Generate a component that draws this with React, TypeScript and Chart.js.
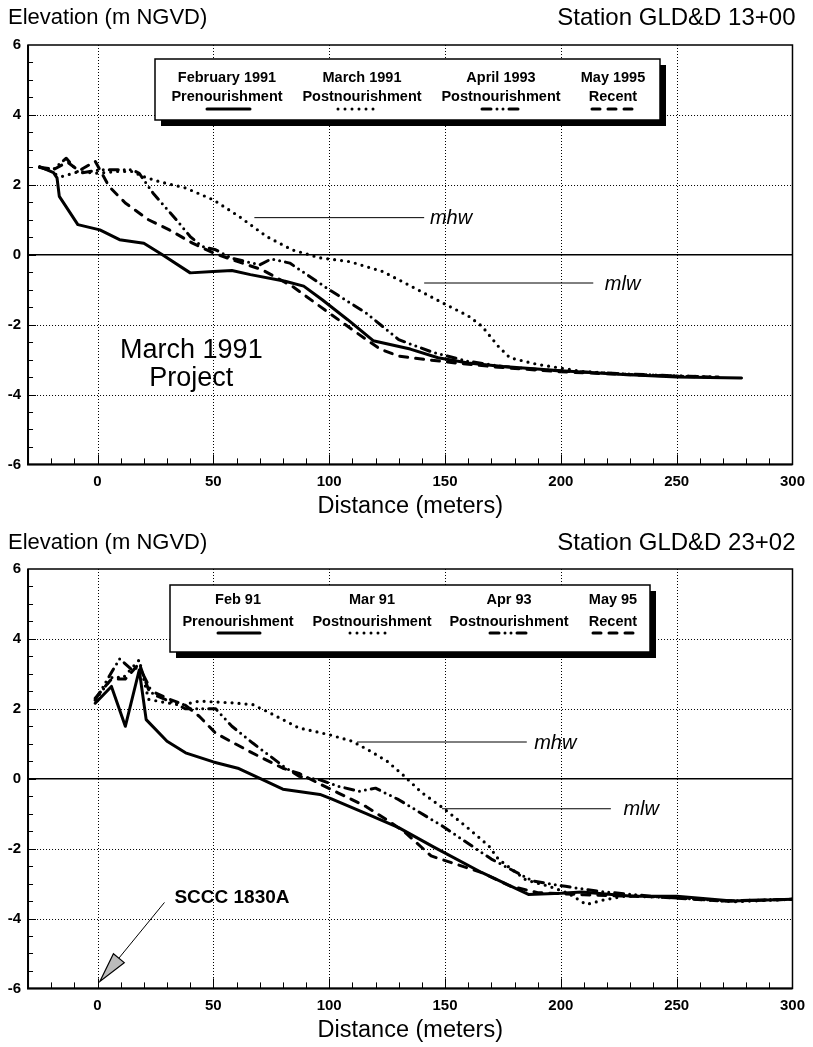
import React, { useEffect, useRef } from "react";
import { Chart, registerables } from "chart.js";
Chart.register(...registerables);

const FONT = "'Liberation Sans', Arial, Helvetica, sans-serif";

// Axes
const X_MIN = -30;
const X_MAX = 300;
const X_MAJOR = 50;
const X_MINOR = 10;
const Y_MIN = -6;
const Y_MAX = 6;
const Y_MAJOR = 2;
const Y_MINOR = 0.5;

// Top chart: Station GLD&D 13+00
const topFeb91X = [-25, -19, -17.5, -16.5, -8.5, 1, 9.5, 20, 28, 40, 50, 58, 66, 81, 89, 97, 108, 119, 135, 147, 160, 175, 200, 225, 250, 278];
const topFeb91Y = [2.52, 2.35, 2.2, 1.67, 0.86, 0.71, 0.43, 0.33, 0.0, -0.52, -0.48, -0.45, -0.57, -0.76, -0.9, -1.29, -1.86, -2.46, -2.7, -2.95, -3.1, -3.2, -3.32, -3.42, -3.5, -3.53];
const topMar91X = [-18, -15, -8, 0, 8, 15, 19.5, 26.7, 38, 50, 61, 73, 84, 96, 109, 123, 131, 149, 160, 166, 173, 178, 190, 209, 231, 258];
const topMar91Y = [2.3, 2.24, 2.38, 2.33, 2.38, 2.38, 2.24, 2.09, 1.91, 1.57, 1.1, 0.52, 0.14, -0.09, -0.2, -0.48, -0.75, -1.38, -1.75, -2.05, -2.62, -2.95, -3.14, -3.34, -3.43, -3.48];
const topApr93X = [-25, -19, -13.5, -8, 1, 15, 18, 24, 34, 40, 45, 51, 58, 70, 75, 83, 100, 116, 130, 145, 160, 175, 200, 225, 250, 268];
const topApr93Y = [2.5, 2.45, 2.76, 2.33, 2.43, 2.43, 2.33, 1.76, 1.0, 0.52, 0.24, 0.14, -0.1, -0.29, -0.12, -0.24, -1.0, -1.67, -2.43, -2.8, -3.05, -3.2, -3.33, -3.4, -3.47, -3.5];
const topMay95X = [-25, -20, -13, -8, -1, 5, 12, 22, 31, 41, 50, 58, 71, 84, 100, 112, 122, 130, 139, 155, 173, 200, 225, 250, 268];
const topMay95Y = [2.5, 2.4, 2.65, 2.4, 2.67, 1.95, 1.48, 1.0, 0.71, 0.33, 0.05, -0.14, -0.43, -0.9, -1.67, -2.24, -2.7, -2.9, -2.98, -3.1, -3.22, -3.35, -3.42, -3.48, -3.5];

// Bottom chart: Station GLD&D 23+02
const botFeb91X = [-1, 6, 12, 18, 21, 30, 38, 50, 61, 71, 80, 96, 101, 116, 130, 145, 166, 186, 200, 209, 231, 250, 274, 300];
const botFeb91Y = [2.16, 2.64, 1.5, 3.11, 1.69, 1.07, 0.74, 0.48, 0.29, -0.02, -0.3, -0.45, -0.58, -1.0, -1.4, -1.95, -2.69, -3.31, -3.28, -3.24, -3.36, -3.36, -3.5, -3.45];
const botMar91X = [-1, 6.5, 11, 18, 22, 30, 37, 44, 58, 67, 73, 87, 100, 110, 118, 125, 132, 140, 149, 159, 169, 173, 185, 195, 203, 211, 219, 228, 250, 275, 300];
const botMar91Y = [2.25, 2.92, 2.88, 3.4, 2.27, 2.17, 2.12, 2.22, 2.17, 2.12, 1.93, 1.45, 1.26, 1.07, 0.78, 0.5, 0.1, -0.4, -0.83, -1.36, -1.93, -2.3, -2.9, -3.08, -3.27, -3.6, -3.46, -3.36, -3.4, -3.52, -3.45];
const botApr93X = [-1, 9.5, 15, 18, 24, 31, 38, 51, 58, 67, 80, 87, 96, 104, 113, 120, 130, 149, 170, 188, 202, 216, 240, 270, 300];
const botApr93Y = [2.25, 3.43, 3.11, 3.2, 2.41, 2.22, 2.0, 2.0, 1.5, 1.02, 0.37, 0.07, -0.03, -0.22, -0.36, -0.27, -0.6, -1.36, -2.3, -2.93, -3.08, -3.22, -3.37, -3.5, -3.45];
const botMay95X = [-1, 6, 12, 18, 22, 30, 38, 44, 51, 67, 80, 87, 96, 104, 116, 127, 133, 144, 166, 178, 190, 210, 240, 270, 300];
const botMay95Y = [2.3, 2.85, 2.85, 3.3, 2.55, 2.3, 2.1, 1.78, 1.3, 0.73, 0.3, 0.15, -0.15, -0.41, -0.8, -1.27, -1.55, -2.21, -2.69, -3.07, -3.26, -3.32, -3.38, -3.5, -3.45];

// Legend texts
const topLegendDates = ["February 1991", "March 1991", "April 1993", "May 1995"];
const botLegendDates = ["Feb 91", "Mar 91", "Apr 93", "May 95"];
const legendKinds = ["Prenourishment", "Postnourishment", "Postnourishment", "Recent"];

// Line styles per survey
const DASHES = [[], [0, 7], [9, 6, 0, 6, 0, 6], [8, 8]];

const pts = (xs: number[], ys: number[]) => xs.map((x, i) => ({ x, y: ys[i] }));

function makeDatasets(series: [number[], number[]][], labels: string[]) {
  return series.map(([xs, ys], i) => ({
    label: labels[i],
    data: pts(xs, ys),
    borderColor: "#000",
    borderWidth: i === 1 ? 3.2 : 3,
    borderDash: DASHES[i],
    borderCapStyle: "round" as const,
    borderJoinStyle: "round" as const,
    pointRadius: 0,
    fill: false,
    tension: 0,
  }));
}

const decorPlugin = {
  id: "decor",
  beforeDatasetsDraw(chart: any, _a: any, o: any) {
    const { ctx, chartArea: a, scales } = chart;
    const x = scales.x, y = scales.y;
    ctx.save();
    ctx.strokeStyle = "#000";
    ctx.lineWidth = 1;
    ctx.setLineDash([1, 2]);
    for (let v = X_MIN; v <= X_MAX; v += X_MINOR) {
      if (v % X_MAJOR !== 0 || v <= X_MIN || v >= X_MAX) continue;
      const px = Math.round(x.getPixelForValue(v)) + 0.5;
      ctx.beginPath(); ctx.moveTo(px, a.top); ctx.lineTo(px, a.bottom); ctx.stroke();
    }
    for (let v = Y_MIN + Y_MAJOR; v < Y_MAX; v += Y_MAJOR) {
      if (v === 0) continue;
      const py = Math.round(y.getPixelForValue(v)) + 0.5;
      ctx.beginPath(); ctx.moveTo(a.left, py); ctx.lineTo(a.right, py); ctx.stroke();
    }
    ctx.setLineDash([]);
    ctx.lineWidth = 1.5;
    const zy = y.getPixelForValue(0);
    ctx.beginPath(); ctx.moveTo(a.left, zy); ctx.lineTo(a.right, zy); ctx.stroke();
    ctx.restore();
  },
  afterDatasetsDraw(chart: any, _a: any, o: any) {
    const { ctx, chartArea: a, scales } = chart;
    const x = scales.x, y = scales.y;
    ctx.save();
    ctx.strokeStyle = "#000";
    ctx.fillStyle = "#000";
    ctx.setLineDash([]);
    // frame
    ctx.lineWidth = 1.5;
    ctx.strokeRect(a.left, a.top, a.right - a.left, a.bottom - a.top);
    ctx.lineWidth = 2;
    ctx.beginPath(); ctx.moveTo(a.left, a.top); ctx.lineTo(a.left, a.bottom); ctx.lineTo(a.right, a.bottom); ctx.stroke();
    // ticks
    ctx.lineWidth = 1;
    for (let v = X_MIN + X_MINOR; v < X_MAX; v += X_MINOR) {
      const px = Math.round(x.getPixelForValue(v)) + 0.5;
      const len = v % X_MAJOR === 0 ? 10 : 6;
      ctx.beginPath(); ctx.moveTo(px, a.bottom); ctx.lineTo(px, a.bottom - len); ctx.stroke();
    }
    for (let v = Y_MIN + Y_MINOR; v < Y_MAX; v += Y_MINOR) {
      const py = Math.round(y.getPixelForValue(v)) + 0.5;
      const len = v % Y_MAJOR === 0 ? 8 : 5;
      ctx.beginPath(); ctx.moveTo(a.left, py); ctx.lineTo(a.left + len, py); ctx.stroke();
    }
    // annotations (data coordinates)
    for (const an of o.annotations || []) {
      if (an.type === "leader") {
        const py = y.getPixelForValue(an.y);
        ctx.lineWidth = 1;
        ctx.beginPath(); ctx.moveTo(x.getPixelForValue(an.x1), py); ctx.lineTo(x.getPixelForValue(an.x2), py); ctx.stroke();
        ctx.font = "italic 20px " + FONT;
        ctx.textAlign = "left"; ctx.textBaseline = "middle";
        ctx.fillText(an.label, x.getPixelForValue(an.lx), py + 1);
      } else if (an.type === "text") {
        ctx.font = an.font;
        ctx.textAlign = an.align; ctx.textBaseline = "middle";
        ctx.fillText(an.label, x.getPixelForValue(an.x), y.getPixelForValue(an.y));
      } else if (an.type === "arrow") {
        const x1 = x.getPixelForValue(an.x1), y1 = y.getPixelForValue(an.y1);
        const x2 = x.getPixelForValue(an.x2), y2 = y.getPixelForValue(an.y2);
        const ang = Math.atan2(y2 - y1, x2 - x1);
        const L = 30, W = 7;
        const bx = x2 - L * Math.cos(ang), by = y2 - L * Math.sin(ang);
        ctx.lineWidth = 1;
        ctx.beginPath(); ctx.moveTo(x1, y1); ctx.lineTo(bx, by); ctx.stroke();
        const nx = -Math.sin(ang) * W, ny = Math.cos(ang) * W;
        ctx.beginPath();
        ctx.moveTo(x2, y2); ctx.lineTo(bx + nx, by + ny); ctx.lineTo(bx - nx, by - ny); ctx.closePath();
        ctx.fillStyle = "#bbb"; ctx.fill();
        ctx.lineWidth = 1.2; ctx.stroke();
        ctx.fillStyle = "#000";
      }
    }
    // legend box
    const lg = o.legend;
    if (lg) {
      const [l, t, r, b] = lg.box;
      ctx.fillStyle = "#000";
      ctx.fillRect(l + lg.shadow, t + lg.shadow, r - l, b - t);
      ctx.fillStyle = "#fff";
      ctx.fillRect(l, t, r - l, b - t);
      ctx.lineWidth = 1.5; ctx.strokeStyle = "#000";
      ctx.strokeRect(l, t, r - l, b - t);
      ctx.fillStyle = "#000";
      ctx.textAlign = "center"; ctx.textBaseline = "middle";
      lg.cols.forEach((c: any, i: number) => {
        ctx.font = "bold 14.5px " + FONT;
        ctx.fillText(lg.dates[i], c.cx, lg.l1y);
        ctx.fillText(lg.kinds[i], c.cx, lg.l2y);
        ctx.save();
        ctx.lineWidth = 3; ctx.lineCap = "round";
        ctx.setLineDash(DASHES[i]);
        ctx.beginPath(); ctx.moveTo(c.s1, lg.sy); ctx.lineTo(c.s2, lg.sy); ctx.stroke();
        ctx.restore();
      });
    }
    ctx.restore();
  },
  afterDraw(chart: any, _a: any, o: any) {
    const { ctx, chartArea: a } = chart;
    ctx.save();
    ctx.fillStyle = "#000";
    ctx.textBaseline = "middle";
    ctx.textAlign = "left";
    ctx.font = "22px " + FONT;
    ctx.fillText(o.leftTitle, 8, o.titleY);
    ctx.textAlign = "right";
    ctx.font = "24px " + FONT;
    ctx.fillText(o.rightTitle, a.right + 3, o.titleY);
    ctx.restore();
  },
};

function makeConfig(datasets: any[], decor: any, padBottom: number) {
  return {
    type: "line",
    data: { datasets },
    plugins: [decorPlugin],
    options: {
      animation: false,
      responsive: false,
      devicePixelRatio: 1,
      layout: { padding: { left: 0.7, right: 19, top: 45, bottom: padBottom } },
      plugins: { legend: { display: false }, tooltip: { enabled: false }, decor },
      scales: {
        x: {
          type: "linear",
          min: X_MIN,
          max: X_MAX,
          grid: { display: false, drawTicks: false, tickLength: 0 },
          border: { display: false },
          ticks: {
            stepSize: X_MAJOR,
            autoSkip: false,
            maxRotation: 0,
            padding: 8,
            color: "#000",
            font: { family: FONT, size: 15, weight: "bold" },
            callback: (v: number) => (v % X_MAJOR === 0 ? String(v) : ""),
          },
          title: {
            display: true,
            text: "Distance (meters)",
            color: "#000",
            font: { family: FONT, size: 23.5 },
            padding: { top: -6, bottom: 0 },
          },
        },
        y: {
          type: "linear",
          min: Y_MIN,
          max: Y_MAX,
          grid: { display: false, drawTicks: false, tickLength: 0 },
          border: { display: false },
          ticks: {
            stepSize: Y_MAJOR,
            padding: 7,
            color: "#000",
            font: { family: FONT, size: 15, weight: "bold" },
            callback: (v: number) => String(v),
          },
        },
      },
    },
  };
}

function ChartCanvas({ config, top, height }: { config: any; top: number; height: number }) {
  const ref = useRef<HTMLCanvasElement>(null);
  useEffect(() => {
    if (!ref.current) return;
    const c = new Chart(ref.current, config);
    return () => c.destroy();
  }, []);
  return (
    <canvas
      ref={ref}
      width={813}
      height={height}
      style={{ position: "absolute", left: 0, top, width: 813, height }}
    />
  );
}

export default function App() {
  const topDatasets = makeDatasets(
    [[topFeb91X, topFeb91Y], [topMar91X, topMar91Y], [topApr93X, topApr93Y], [topMay95X, topMay95Y]],
    topLegendDates
  );
  const botDatasets = makeDatasets(
    [[botFeb91X, botFeb91Y], [botMar91X, botMar91Y], [botApr93X, botApr93Y], [botMay95X, botMay95Y]],
    botLegendDates
  );
  const topDecor = {
    leftTitle: "Elevation (m NGVD)",
    rightTitle: "Station GLD&D 13+00",
    titleY: 18,
    legend: {
      box: [155, 59, 660, 120],
      shadow: 6,
      dates: topLegendDates,
      kinds: legendKinds,
      cols: [
        { cx: 227, s1: 207, s2: 250 },
        { cx: 362, s1: 338, s2: 380 },
        { cx: 501, s1: 482, s2: 523 },
        { cx: 613, s1: 592, s2: 632 },
      ],
      l1y: 78,
      l2y: 97,
      sy: 109,
    },
    annotations: [
      { type: "leader", x1: 67.7, x2: 141, y: 1.06, label: "mhw", lx: 143.5 },
      { type: "leader", x1: 141, x2: 214, y: -0.81, label: "mlw", lx: 219 },
      { type: "text", label: "March 1991", x: 40.5, y: -2.75, font: "27px " + FONT, align: "center" },
      { type: "text", label: "Project", x: 40.5, y: -3.55, font: "27px " + FONT, align: "center" },
    ],
  };
  const botDecor = {
    leftTitle: "Elevation (m NGVD)",
    rightTitle: "Station GLD&D 23+02",
    titleY: 19,
    legend: {
      box: [170, 61, 650, 128],
      shadow: 6,
      dates: botLegendDates,
      kinds: legendKinds,
      cols: [
        { cx: 238, s1: 218, s2: 260 },
        { cx: 372, s1: 350, s2: 390 },
        { cx: 509, s1: 490, s2: 530 },
        { cx: 613, s1: 593, s2: 633 },
      ],
      l1y: 76,
      l2y: 98,
      sy: 109,
    },
    annotations: [
      { type: "leader", x1: 112, x2: 185.3, y: 1.05, label: "mhw", lx: 188.5 },
      { type: "leader", x1: 148.7, x2: 221.6, y: -0.86, label: "mlw", lx: 227 },
      { type: "text", label: "SCCC 1830A", x: 33.2, y: -3.4, font: "bold 19px " + FONT, align: "left" },
      { type: "arrow", x1: 28.9, y1: -3.54, x2: 1, y2: -5.8 },
    ],
  };
  const topConfig = makeConfig(topDatasets, topDecor, 3.4);
  const botConfig = makeConfig(botDatasets, botDecor, 2.4);
  return (
    <div style={{ position: "absolute", left: 0, top: 0, width: 813, height: 1047, overflow: "hidden", background: "#fff" }}>
      <ChartCanvas config={topConfig} top={0} height={524} />
      <ChartCanvas config={botConfig} top={524} height={523} />
    </div>
  );
}
